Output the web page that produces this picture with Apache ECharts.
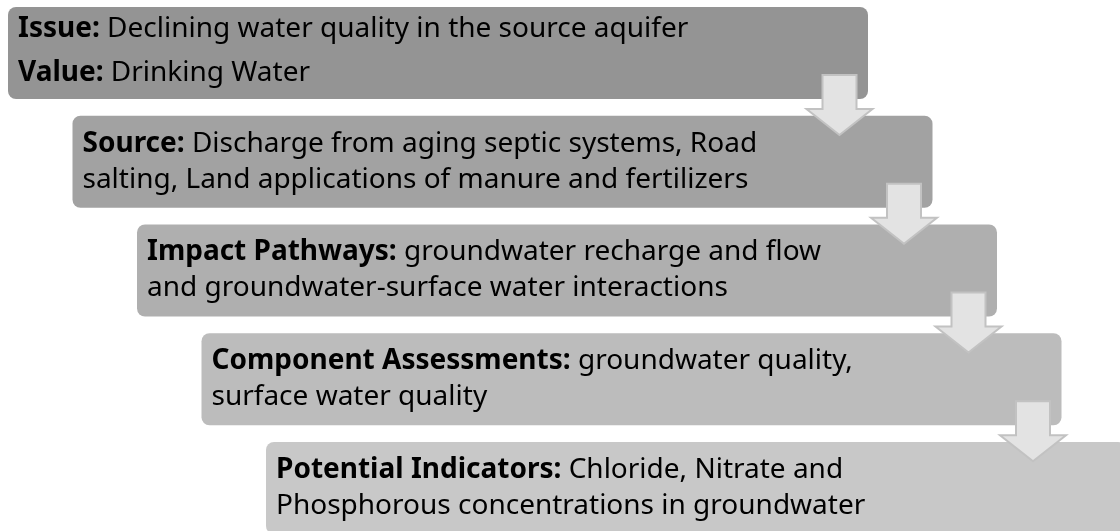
<!DOCTYPE html>
<html>
<head>
<meta charset="utf-8">
<script src="https://cdn.jsdelivr.net/npm/echarts@6/dist/echarts.min.js"></script>
<style>
html,body{margin:0;padding:0;background:#fff;}
#chart{width:1120px;height:531px;}
</style>
</head>
<body>
<div id="chart"></div>
<script>
// Steps of the process (index = step position in the staircase)
const steps = [0, 1, 2, 3, 4];
const headings = [
  ['Issue:', 'Value:'],
  ['Source:'],
  ['Impact Pathways:'],
  ['Component Assessments:'],
  ['Potential Indicators:']
];
const descriptions = [
  [' Declining water quality in the source aquifer', ' Drinking Water'],
  [' Discharge from aging septic systems, Road\nsalting, Land applications of manure and fertilizers'],
  [' groundwater recharge and flow\nand groundwater-surface water interactions'],
  [' groundwater quality,\nsurface water quality'],
  [' Chloride, Nitrate and\nPhosphorous concentrations in groundwater']
];
const arrows = [0, 1, 2, 3];

const boxColors = ['#949494', '#a2a2a2', '#afafaf', '#bcbcbc', '#c8c8c8'];
const lineHeights = [44, 36, 36, 36, 36];
const BOX_W = 860, BOX_H = 92;
const FONT = '"Noto Sans", "Open Sans", sans-serif';
const FS = 28;

function boxText(i) {
  return headings[i].map((h, k) => '{b|' + h + '}' + descriptions[i][k].split('\n').map(s => '{n|' + s + '}').join('\n')).join('\n');
}

const chart = echarts.init(document.getElementById('chart'));
chart.setOption({
  animation: false,
  grid: { left: 8, top: 7, right: 0, bottom: 0 },
  xAxis: { type: 'value', min: 0, max: 1112 / 64.5, show: false },
  yAxis: { type: 'value', min: 0, max: 524 / 108.75, inverse: true, show: false },
  series: [
    {
      type: 'custom',
      data: steps.map(s => [s, s]),
      renderItem: function (params, api) {
        const i = params.dataIndex;
        const p = api.coord([api.value(0), api.value(1)]);
        const lh = lineHeights[i];
        return {
          type: 'group',
          children: [
            {
              type: 'rect',
              shape: { x: p[0], y: p[1], width: BOX_W, height: BOX_H, r: 8 },
              style: { fill: boxColors[i] }
            },
            {
              type: 'text',
              x: p[0] + 10,
              y: p[1] + BOX_H / 2 - (i === 0 ? 2 : 0),
              style: {
                text: boxText(i),
                verticalAlign: 'middle',
                align: 'left',
                fill: '#000',
                fontFamily: FONT,
                fontSize: FS,
                lineHeight: lh,
                rich: {
                  b: { fontWeight: 'bold', fontFamily: FONT, fontSize: FS, lineHeight: lh, fill: '#000' },
                  n: { fontWeight: 'normal', fontFamily: FONT, fontSize: FS, lineHeight: lh, fill: '#000' }
                }
              }
            }
          ]
        };
      }
    },
    {
      type: 'custom',
      data: arrows.map(s => [s, s]),
      z: 5,
      renderItem: function (params, api) {
        const p = api.coord([api.value(0), api.value(1)]);
        const cx = p[0] + 831.5;
        const ty = p[1] + 68;
        return {
          type: 'polygon',
          shape: {
            points: [
              [cx - 17, ty], [cx + 17, ty], [cx + 17, ty + 34], [cx + 33, ty + 34],
              [cx, ty + 60], [cx - 33, ty + 34], [cx - 17, ty + 34]
            ]
          },
          style: { fill: '#e3e3e3', stroke: '#c2c2c2', lineWidth: 2, lineJoin: 'miter' }
        };
      }
    }
  ]
});
</script>
</body>
</html>
